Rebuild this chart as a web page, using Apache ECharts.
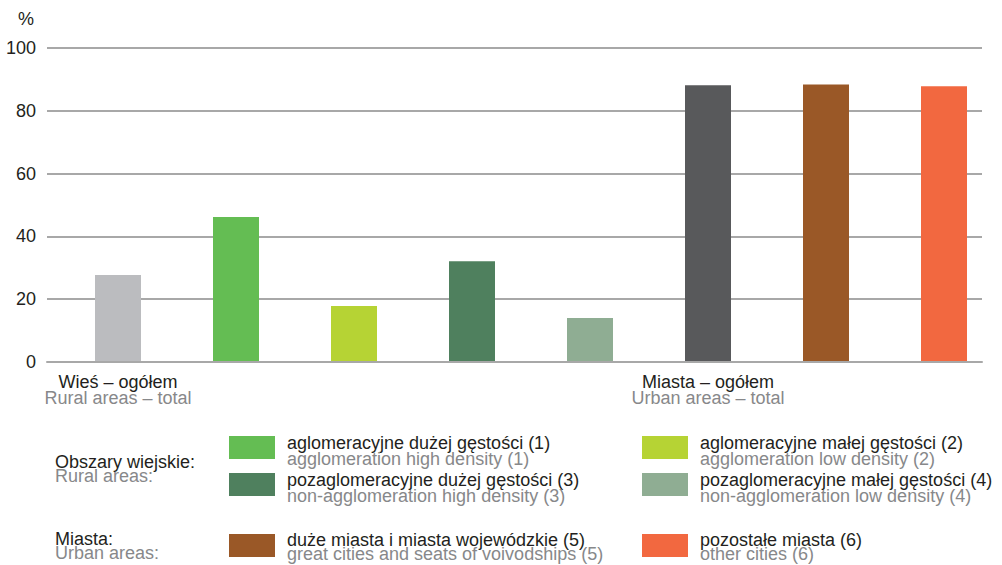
<!DOCTYPE html>
<html>
<head>
<meta charset="utf-8">
<script src="https://cdn.jsdelivr.net/npm/echarts@6/dist/echarts.min.js"></script>
<style>
  html, body { margin: 0; padding: 0; background: #ffffff; }
  #chart { width: 1002px; height: 565px; }
</style>
</head>
<body>
<div id="chart"></div>
<script>
// ---- data ----
const categoriesPl = ['Wieś – ogółem', '', '', '', '', 'Miasta – ogółem', '', ''];
const categoriesEn = ['Rural areas – total', '', '', '', '', 'Urban areas – total', '', ''];
const values = [27.7, 46.2, 17.8, 32.1, 14.0, 88.1, 88.4, 87.8];
const yTicks = [0, 20, 40, 60, 80, 100];
const unitLabel = '%';
const groupPl = ['Obszary wiejskie:', 'Miasta:'];
const groupEn = ['Rural areas:', 'Urban areas:'];
const legendPl = ['aglomeracyjne dużej gęstości (1)', 'aglomeracyjne małej gęstości (2)',
  'pozaglomeracyjne dużej gęstości (3)', 'pozaglomeracyjne małej gęstości (4)',
  'duże miasta i miasta wojewódzkie (5)', 'pozostałe miasta (6)'];
const legendEn = ['agglomeration high density (1)', 'agglomeration low density (2)',
  'non-agglomeration high density (3)', 'non-agglomeration low density (4)',
  'great cities and seats of voivodships (5)', 'other cities (6)'];

// ---- styles ----
const barColors = ['#bbbcbf', '#64bd53', '#b6d334', '#4f805e', '#8fad93', '#58595b', '#9a5827', '#f26840'];
const legendColors = ['#64bd53', '#b6d334', '#4f805e', '#8fad93', '#9a5827', '#f26840'];
const FONT = 'Liberation Sans, Arial, Helvetica, sans-serif';
const DARK = '#231f20';
const GRAY = '#87888a';
const FS = 18;

const chart = echarts.init(document.getElementById('chart'), null, { renderer: 'svg' });

const graphics = [];
// unit label
graphics.push({ type: 'text', left: 18, top: 10, style: { text: unitLabel, font: FS + 'px ' + FONT, fill: DARK } });
// group labels
const groupY = [462, 539];
groupPl.forEach((t, i) => {
  graphics.push({ type: 'text', x: 55, y: groupY[i], style: { text: t, font: FS + 'px ' + FONT, fill: DARK, verticalAlign: 'middle' } });
  graphics.push({ type: 'text', x: 55, y: groupY[i] + 14, style: { text: groupEn[i], font: FS + 'px ' + FONT, fill: GRAY, verticalAlign: 'middle' } });
});
// legend swatches and texts
const colX = [229, 642];
const rowY = [436, 473, 534];
const plOff = [7, 7, 6];
const enOff = [23, 23, 20];
legendPl.forEach((t, i) => {
  const c = i % 2, r = Math.floor(i / 2);
  const sx = colX[c], sy = rowY[r];
  graphics.push({ type: 'rect', shape: { x: sx, y: sy, width: 46, height: 23 }, style: { fill: legendColors[i] } });
  graphics.push({ type: 'text', x: sx + 58, y: sy + plOff[r], style: { text: t, font: FS + 'px ' + FONT, fill: DARK, verticalAlign: 'middle' } });
  graphics.push({ type: 'text', x: sx + 58, y: sy + enOff[r], style: { text: legendEn[i], font: FS + 'px ' + FONT, fill: GRAY, verticalAlign: 'middle' } });
});

const option = {
  backgroundColor: '#ffffff',
  animation: false,
  textStyle: { fontFamily: FONT },
  grid: [
    { left: 47, right: 20, top: 48, bottom: 203 },
    { left: 118, right: 58, top: 48, bottom: 203 }
  ],
  xAxis: [
    { gridIndex: 0, type: 'category', data: categoriesPl.map((_, i) => i), z: 5,
      axisLine: { show: true, lineStyle: { color: '#a8a8a8', width: 2 } },
      axisTick: { show: false }, axisLabel: { show: false }, splitLine: { show: false } },
    { gridIndex: 1, type: 'category', boundaryGap: false, data: categoriesPl,
      axisLine: { show: false }, axisTick: { show: false }, splitLine: { show: false },
      axisLabel: {
        interval: 0, margin: 12, hideOverlap: false,
        formatter: (v, i) => v ? '{pl|' + v + '}\n{en|' + categoriesEn[i] + '}' : '',
        rich: {
          pl: { fontSize: FS, color: DARK, fontFamily: FONT, lineHeight: 16, align: 'center' },
          en: { fontSize: FS, color: GRAY, fontFamily: FONT, lineHeight: 16, align: 'center' }
        }
      } }
  ],
  yAxis: [
    { gridIndex: 0, type: 'value', min: yTicks[0], max: yTicks[yTicks.length - 1], interval: yTicks[1] - yTicks[0],
      axisLine: { show: false }, axisTick: { show: false },
      axisLabel: { fontSize: FS, color: DARK, fontFamily: FONT, margin: 11 },
      splitLine: { show: true, lineStyle: { color: '#a8a8a8', width: 2 } } },
    { gridIndex: 1, type: 'value', min: yTicks[0], max: yTicks[yTicks.length - 1],
      show: false, splitLine: { show: false } }
  ],
  series: [{
    type: 'bar', xAxisIndex: 1, yAxisIndex: 1, barWidth: 46,
    data: values.map((v, i) => ({ value: v, itemStyle: { color: barColors[i] } }))
  }],
  graphic: graphics
};
chart.setOption(option);
</script>
</body>
</html>
